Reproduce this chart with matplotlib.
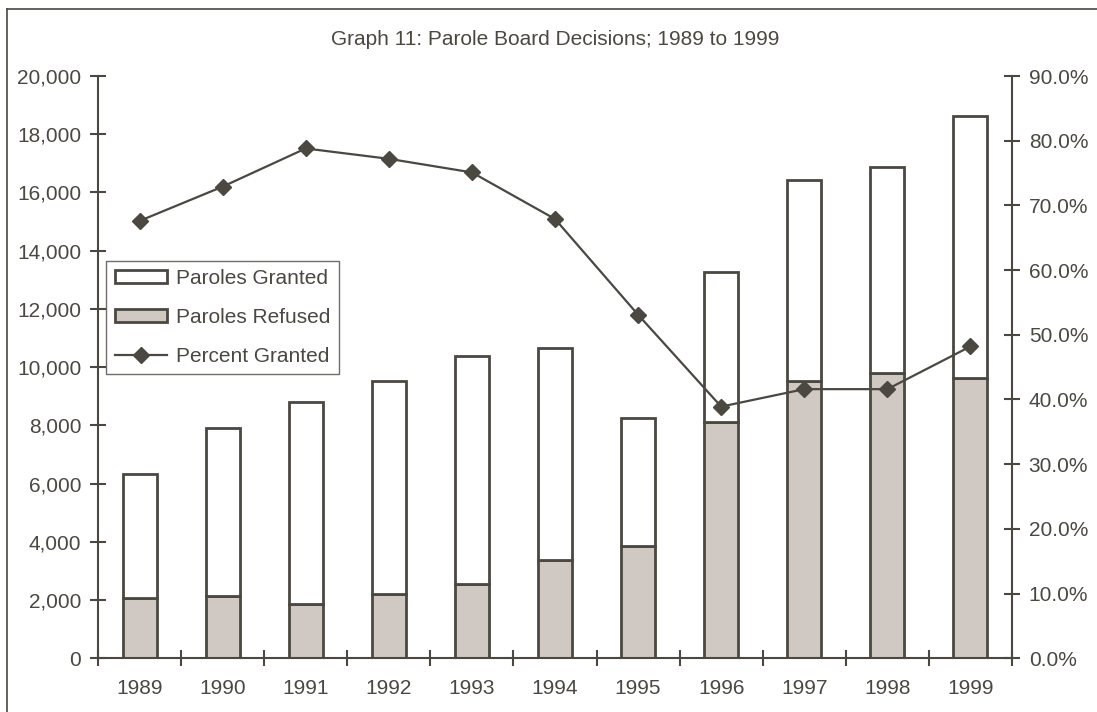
import matplotlib
matplotlib.use("Agg")
import matplotlib.pyplot as plt
from matplotlib.lines import Line2D
from matplotlib.ticker import FuncFormatter, MultipleLocator
import numpy as np

plt.rcParams['font.family'] = ['Liberation Sans', 'DejaVu Sans']

years = ["1989", "1990", "1991", "1992", "1993", "1994", "1995", "1996", "1997", "1998", "1999"]
refused = [2060, 2140, 1860, 2200, 2550, 3370, 3860, 8120, 9540, 9810, 9620]
total = [6320, 7900, 8800, 9540, 10390, 10650, 8250, 13280, 16430, 16890, 18610]
granted = [t - r for t, r in zip(total, refused)]
percent_granted = [67.6, 72.9, 78.8, 77.2, 75.1, 67.9, 53.1, 38.9, 41.6, 41.6, 48.2]

title = "Graph 11: Parole Board Decisions; 1989 to 1999"

dark = "#4b4842"
fill = "#d0c9c3"
txt = "#4b4842"
fs = 15

W, H = 1097, 712
fig = plt.figure(figsize=(W / 100, H / 100), dpi=100)
ax = fig.add_axes([98 / W, 1 - 658.3 / H, (1012 - 98) / W, (658.3 - 76) / H])

x = np.arange(len(years))
bw = 0.41
b1 = ax.bar(x, refused, bw, color=fill, edgecolor=dark, linewidth=2, label="Paroles Refused", zorder=2)
b2 = ax.bar(x, granted, bw, bottom=refused, color="white", edgecolor=dark, linewidth=2, label="Paroles Granted", zorder=2)

ax.set_xlim(-0.5, len(years) - 0.5)
ax.set_ylim(0, 20000)
ax.yaxis.set_major_locator(MultipleLocator(2000))
ax.yaxis.set_major_formatter(FuncFormatter(lambda v, p: f"{int(v):,}"))
ax.set_xticks(x)
ax.set_xticklabels(years)
ax.set_xticks(np.arange(-0.5, len(years) - 0.4, 1.0), minor=True)
ax.tick_params(axis='x', which='major', length=0, pad=15, labelsize=fs, labelcolor=txt)
ax.tick_params(axis='x', which='minor', direction='inout', length=12, width=1.5, color=dark)
ax.tick_params(axis='y', direction='inout', length=12, width=1.5, color=dark, labelsize=fs, labelcolor=txt, pad=6)

for s in ['top', 'right']:
    ax.spines[s].set_visible(False)
for s in ['left', 'bottom']:
    ax.spines[s].set_color(dark)
    ax.spines[s].set_linewidth(1.5)

ax2 = ax.twinx()
ln, = ax2.plot(x, percent_granted, color=dark, linewidth=1.6, marker='D', markersize=8.5,
               markerfacecolor=dark, markeredgecolor=dark, label="Percent Granted", zorder=3)
ax2.set_ylim(0, 90)
ax2.yaxis.set_major_locator(MultipleLocator(10))
ax2.yaxis.set_major_formatter(FuncFormatter(lambda v, p: f"{v:.1f}%"))
ax2.tick_params(axis='y', direction='inout', length=12, width=1.5, color=dark, labelsize=fs, labelcolor=txt, pad=6)
for s in ['top', 'left', 'bottom']:
    ax2.spines[s].set_visible(False)
ax2.spines['right'].set_color(dark)
ax2.spines['right'].set_linewidth(1.5)

ax.set_title(title, fontsize=fs, color=txt, pad=22)

leg = ax2.legend([b2, b1, ln], ["Paroles Granted", "Paroles Refused", "Percent Granted"],
                 loc='upper left', bbox_to_anchor=(0.0092, 0.683), borderaxespad=0,
                 fontsize=fs, frameon=True, fancybox=False, edgecolor=dark,
                 handlelength=2.5, handleheight=0.56, handletextpad=0.45,
                 labelspacing=0.95, borderpad=0.4, labelcolor=txt)
leg.get_frame().set_linewidth(1.0)

# outer frame: only left and top edges are visible in the reference
x0, y0 = 6.5 / W, 1 - 9 / H
fig.add_artist(Line2D([x0, x0], [0, y0], transform=fig.transFigure, color=dark, linewidth=1.2))
fig.add_artist(Line2D([x0, 1], [y0, y0], transform=fig.transFigure, color=dark, linewidth=1.2))

fig.savefig("out.png", dpi=100)
